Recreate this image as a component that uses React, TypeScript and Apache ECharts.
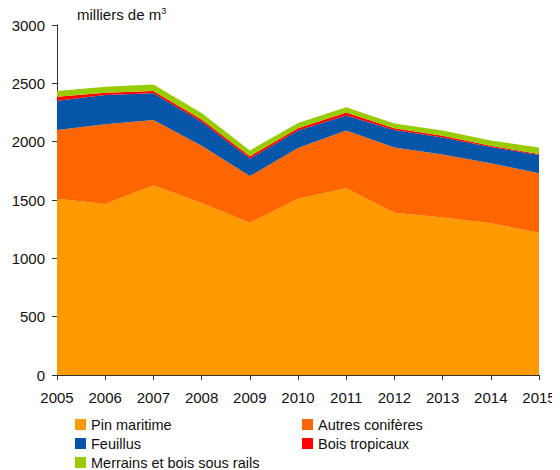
import React, { useEffect, useRef } from "react";
import * as echarts from "echarts";

const years = ["2005", "2006", "2007", "2008", "2009", "2010", "2011", "2012", "2013", "2014", "2015"];
const pinMaritime = [1510, 1465, 1625, 1475, 1305, 1510, 1600, 1390, 1350, 1300, 1220];
const autresConiferes = [590, 685, 560, 490, 400, 435, 495, 560, 540, 515, 510];
const feuillus = [250, 250, 230, 205, 150, 150, 130, 150, 145, 140, 155];
const boisTropicaux = [35, 20, 20, 20, 20, 20, 25, 15, 15, 10, 10];
const merrains = [50, 50, 55, 55, 50, 45, 45, 40, 45, 45, 55];

const seriesNames = ["Pin maritime", "Autres conifères", "Feuillus", "Bois tropicaux", "Merrains et bois sous rails"];
const colors = ["#FF9900", "#FF6600", "#0556A8", "#FF0000", "#99CC00"];

export default function App() {
  const ref = useRef<HTMLDivElement>(null);
  useEffect(() => {
    if (!ref.current) return;
    const chart = echarts.init(ref.current, null, { renderer: "svg" });
    const dataSets = [pinMaritime, autresConiferes, feuillus, boisTropicaux, merrains];
    const font = "Liberation Sans, Arial, sans-serif";
    const legendCommon = {
      orient: "vertical",
      top: 416,
      height: 80,
      padding: 0,
      itemWidth: 11,
      itemHeight: 11,
      itemGap: 2,
      icon: "rect",
      textStyle: { fontSize: 14.5, color: "#111", fontFamily: font, lineHeight: 17 },
    };
    chart.setOption({
      animation: false,
      textStyle: { fontFamily: font },
      color: colors,
      grid: { left: 57, right: 21, top: 25, bottom: 95 },
      xAxis: {
        type: "category",
        data: years,
        boundaryGap: false,
        axisLine: { lineStyle: { color: "#333", width: 1 } },
        axisTick: { show: true, alignWithLabel: true, length: 5, lineStyle: { color: "#333" } },
        axisLabel: { color: "#111", fontSize: 15, margin: 15, fontFamily: font },
        splitLine: { show: false },
      },
      yAxis: {
        type: "value",
        min: 0,
        max: 3000,
        interval: 500,
        axisLine: { show: true, lineStyle: { color: "#333", width: 1 } },
        axisTick: { show: true, length: 5, lineStyle: { color: "#333" } },
        axisLabel: { color: "#111", fontSize: 15, margin: 12, fontFamily: font, formatter: (v: number) => String(v) },
        splitLine: { show: false },
      },
      legend: [
        { ...legendCommon, data: [seriesNames[0], seriesNames[2], seriesNames[4]], left: 75 },
        { ...legendCommon, data: [seriesNames[1], seriesNames[3]], left: 302 },
      ],
      graphic: [
        {
          type: "text",
          left: 77,
          top: 6,
          style: {
            text: "{a|milliers de m}{b|3}",
            rich: {
              a: { fontSize: 15, fontFamily: font, fill: "#111" },
              b: { fontSize: 9, fontFamily: font, fill: "#111", padding: [0, 0, 8, 0] },
            },
          },
        },
      ],
      series: dataSets.map((d, i) => ({
        name: seriesNames[i],
        type: "line",
        stack: "total",
        data: d,
        symbol: "none",
        lineStyle: { width: 0 },
        areaStyle: { color: colors[i], opacity: 1 },
        itemStyle: { color: colors[i] },
      })),
    });
    return () => chart.dispose();
  }, []);
  return <div ref={ref} style={{ width: 560, height: 470, marginLeft: -8, marginTop: -8 }} />;
}
